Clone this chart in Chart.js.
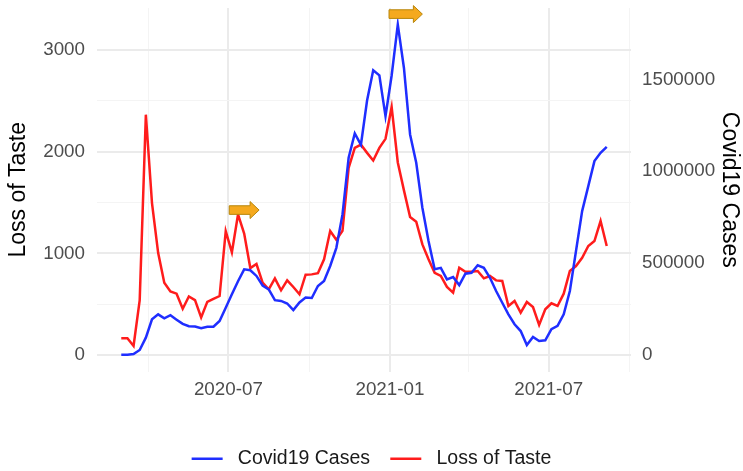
<!DOCTYPE html>
<html>
<head>
<meta charset="utf-8">
<script src="https://cdn.jsdelivr.net/npm/chart.js@4.4.1/dist/chart.umd.min.js"></script>
<style>
  html, body { margin: 0; padding: 0; background: #fff; }
  #wrap { width: 743px; height: 471px; }
</style>
</head>
<body>
<div id="wrap"><canvas id="chart"></canvas></div>
<script>
// weekly series
const weeks = [
  '2020-03-01', '2020-03-08', '2020-03-15', '2020-03-22', '2020-03-29', '2020-04-05', '2020-04-12', '2020-04-19',
  '2020-04-26', '2020-05-03', '2020-05-10', '2020-05-17', '2020-05-24', '2020-05-31', '2020-06-07', '2020-06-14',
  '2020-06-21', '2020-06-28', '2020-07-05', '2020-07-12', '2020-07-19', '2020-07-26', '2020-08-02', '2020-08-09',
  '2020-08-16', '2020-08-23', '2020-08-30', '2020-09-06', '2020-09-13', '2020-09-20', '2020-09-27', '2020-10-04',
  '2020-10-11', '2020-10-18', '2020-10-25', '2020-11-01', '2020-11-08', '2020-11-15', '2020-11-22', '2020-11-29',
  '2020-12-06', '2020-12-13', '2020-12-20', '2020-12-27', '2021-01-03', '2021-01-10', '2021-01-17', '2021-01-24',
  '2021-01-31', '2021-02-07', '2021-02-14', '2021-02-21', '2021-02-28', '2021-03-07', '2021-03-14', '2021-03-21',
  '2021-03-28', '2021-04-04', '2021-04-11', '2021-04-18', '2021-04-25', '2021-05-02', '2021-05-09', '2021-05-16',
  '2021-05-23', '2021-05-30', '2021-06-06', '2021-06-13', '2021-06-20', '2021-06-27', '2021-07-04', '2021-07-11',
  '2021-07-18', '2021-07-25', '2021-08-01', '2021-08-08', '2021-08-15', '2021-08-22', '2021-08-29', '2021-09-05'
]

const covidCases = [
  500, 1000, 4500, 27000, 94000, 194000, 221000, 199000,
  216000, 192000, 169000, 156000, 155000, 145000, 153000, 154000,
  185000, 257000, 330000, 401000, 466000, 461000, 430000, 378000,
  357000, 298000, 294000, 280000, 244000, 286000, 312000, 310000,
  375000, 403000, 484000, 583000, 765000, 1073000, 1206000, 1144000,
  1385000, 1550000, 1522000, 1300000, 1521000, 1798000, 1562000, 1200000,
  1046000, 801000, 620000, 466000, 474000, 411000, 424000, 380000,
  442000, 447000, 488000, 474000, 420000, 348000, 284000, 221000,
  167000, 130000, 54000, 98000, 76000, 80000, 140000, 158000,
  221000, 348000, 566000, 783000, 919000, 1055000, 1100000, 1133000
]

const lossOfTaste = [
  164, 164, 88, 540, 2365, 1495, 1005, 711,
  625, 603, 454, 576, 540, 370, 522, 552,
  580, 1219, 1010, 1383, 1195, 855, 895, 711,
  646, 754, 636, 734, 669, 597, 790, 793,
  805, 941, 1219, 1133, 1222, 1842, 2038, 2070,
  1989, 1914, 2038, 2127, 2439, 1895, 1620, 1357,
  1311, 1088, 941, 809, 777, 669, 613, 858,
  819, 819, 826, 754, 777, 734, 728, 482,
  531, 416, 521, 472, 295, 449, 508, 482,
  603, 826, 875, 957, 1072, 1121, 1318, 1072
]

const leftTicks = [0, 500, 1000, 1500, 2000, 2500, 3000]
const rightTicks = [0, 500000, 1000000, 1500000]
const xTickDates = ['2020-04-01', '2020-07-01', '2020-10-01', '2021-01-01', '2021-04-01', '2021-07-01', '2021-10-01']

// the two orange arrows (left-axis units)
const arrowStart = ['2020-07-02', '2020-12-31']
const arrowEnd = ['2020-08-05', '2021-02-07']
const arrowLevel = [1426, 3355]

const casesPerUnit = 553 // secondary axis = primary * this
const font = "'Liberation Sans', Arial, Helvetica, sans-serif"
const toMs = s => Date.parse(s + 'T00:00:00Z')

const xs = weeks.map(toMs)
const xPad = (xs[xs.length - 1] - xs[0]) * 0.05
const yMin = -163
const yMax = 3415

const isMajorDate = v => {
  const m = new Date(v).getUTCMonth()
  return m === 0 || m === 6
}

// keep the panel where the axis boxes say it is (no extra room for tick labels)
const noScalePadding = scale => {
  scale.paddingTop = 0
  scale.paddingBottom = 0
  scale.paddingLeft = 0
  scale.paddingRight = 0
}

const arrowPlugin = {
  id: 'arrows',
  afterDatasetsDraw(chart) {
    const { ctx, scales } = chart
    ctx.save()
    arrowStart.forEach((s, i) => {
      const x0 = scales.x.getPixelForValue(toMs(s))
      const x1 = scales.x.getPixelForValue(toMs(arrowEnd[i]))
      const y = scales.y.getPixelForValue(arrowLevel[i])
      const body = 4.3, head = 8.5, headLen = 9
      ctx.beginPath()
      ctx.moveTo(x0, y - body)
      ctx.lineTo(x1 - headLen, y - body)
      ctx.lineTo(x1 - headLen, y - head)
      ctx.lineTo(x1, y)
      ctx.lineTo(x1 - headLen, y + head)
      ctx.lineTo(x1 - headLen, y + body)
      ctx.lineTo(x0, y + body)
      ctx.closePath()
      ctx.fillStyle = '#f5a91e'
      ctx.fill()
      ctx.lineWidth = 1
      ctx.strokeStyle = '#b8860b'
      ctx.stroke()
    })
    ctx.restore()
  }
}

const ctx = document.getElementById('chart').getContext('2d')
new Chart(ctx, {
  type: 'line',
  data: {
    datasets: [
      {
        label: 'Covid19 Cases',
        data: xs.map((x, i) => ({ x: x, y: covidCases[i] })),
        yAxisID: 'y2',
        borderColor: '#1f2eff',
        backgroundColor: '#1f2eff',
        borderWidth: 2.5,
        pointRadius: 0,
        tension: 0
      },
      {
        label: 'Loss of Taste',
        data: xs.map((x, i) => ({ x: x, y: lossOfTaste[i] })),
        yAxisID: 'y',
        borderColor: '#ff1c1c',
        backgroundColor: '#ff1c1c',
        borderWidth: 2.5,
        pointRadius: 0,
        tension: 0
      }
    ]
  },
  options: {
    responsive: true,
    maintainAspectRatio: false,
    animation: false,
    layout: { padding: { top: 8, left: 0, right: 0, bottom: 0 } },
    plugins: {
      tooltip: { enabled: false },
      legend: {
        position: 'bottom',
        maxHeight: 26,
        labels: {
          color: '#1a1a1a',
          boxWidth: 31,
          boxHeight: 2.5,
          padding: 4,
          font: { family: font, size: 19.5 },
          generateLabels(chart) {
            const items = Chart.defaults.plugins.legend.labels.generateLabels(chart)
            // a little extra room between key and text, and between the two entries
            items.forEach((it, i) => {
              it.lineWidth = 0
              it.text = ' ' + it.text + (i === 0 ? '   ' : '')
            })
            return items
          }
        }
      }
    },
    scales: {
      x: {
        type: 'linear',
        min: xs[0] - xPad,
        max: xs[xs.length - 1] + xPad,
        afterBuildTicks: scale => { scale.ticks = xTickDates.map(d => ({ value: toMs(d) })) },
        afterFit: scale => { scale.height = 73.5; noScalePadding(scale) },
        border: { display: false },
        grid: {
          drawTicks: false,
          color: c => isMajorDate(c.tick.value) ? '#ebebeb' : '#f4f4f4',
          lineWidth: c => isMajorDate(c.tick.value) ? 2 : 1
        },
        ticks: {
          autoSkip: false,
          maxRotation: 0,
          padding: 7,
          color: '#4d4d4d',
          font: { family: font, size: 18.8 },
          callback: v => {
            if (!isMajorDate(v)) return ''
            const d = new Date(v)
            return d.getUTCFullYear() + '-' + String(d.getUTCMonth() + 1).padStart(2, '0')
          }
        }
      },
      y: {
        position: 'left',
        min: yMin,
        max: yMax,
        afterBuildTicks: scale => { scale.ticks = leftTicks.map(v => ({ value: v })) },
        afterFit: scale => { scale.width = 97; noScalePadding(scale) },
        border: { display: false },
        grid: {
          drawTicks: false,
          color: c => c.tick.value % 1000 === 0 ? '#ebebeb' : '#f4f4f4',
          lineWidth: c => c.tick.value % 1000 === 0 ? 2 : 1
        },
        ticks: {
          padding: 12,
          color: '#4d4d4d',
          font: { family: font, size: 18.8 },
          callback: v => v % 1000 === 0 ? String(v) : ''
        },
        title: {
          display: true,
          text: 'Loss of Taste',
          color: '#000',
          padding: { top: 5, bottom: 0 },
          font: { family: font, size: 23 }
        }
      },
      y2: {
        position: 'right',
        min: yMin * casesPerUnit,
        max: yMax * casesPerUnit,
        afterBuildTicks: scale => { scale.ticks = rightTicks.map(v => ({ value: v })) },
        afterFit: scale => { scale.width = 112; noScalePadding(scale) },
        border: { display: false },
        grid: { display: false, drawTicks: false },
        ticks: {
          padding: 11,
          color: '#4d4d4d',
          font: { family: font, size: 18.8 },
          callback: v => String(v)
        },
        title: {
          display: true,
          text: 'Covid19 Cases',
          color: '#000',
          padding: { top: 0, bottom: 0 },
          font: { family: font, size: 23 }
        }
      }
    }
  },
  plugins: [arrowPlugin]
})
</script>
</body>
</html>
